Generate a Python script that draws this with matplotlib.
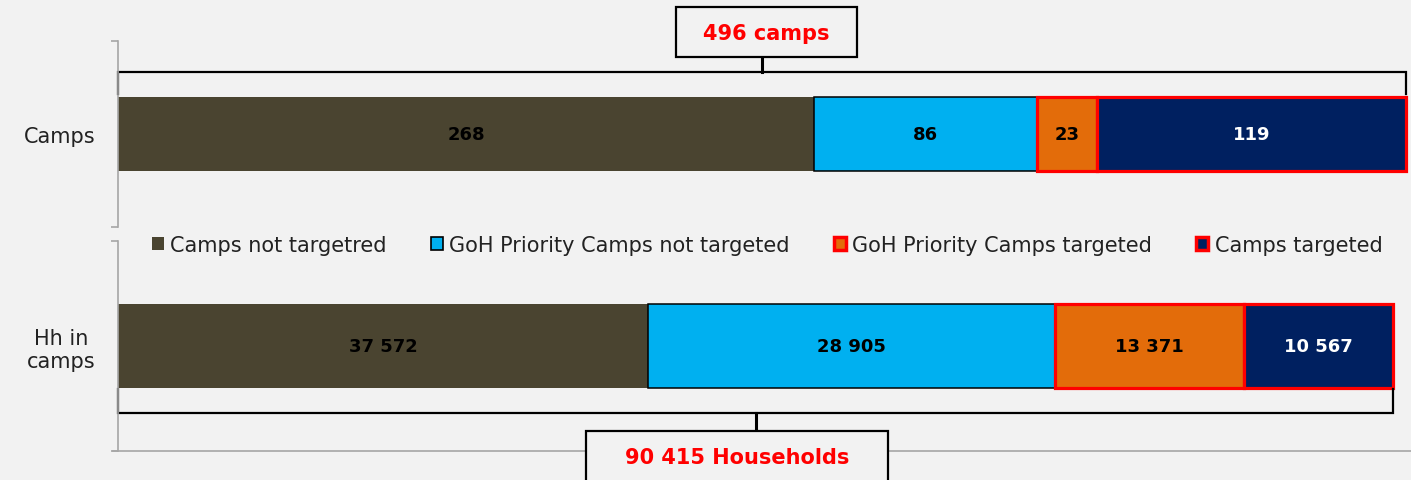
import numpy as np
import matplotlib.pyplot as plt
from matplotlib.patches import Patch, Rectangle
from matplotlib.lines import Line2D

categories = ['Camps not targetred', 'GoH Priority Camps not targeted',
              'GoH Priority Camps targeted', 'Camps targeted']
camps = [268, 86, 23, 119]
households = [37572, 28905, 13371, 10567]
row_names = ['Camps', 'Hh in\ncamps']
camps_total_label = '496 camps'
hh_total_label = '90 415 Households'

colors = ['#4a4430', '#00b0f0', '#e36c0a', '#002060']
edges = ['none', 'black', 'red', 'red']
edge_w = [0, 1.1, 2.3, 2.3]
text_colors = ['black', 'black', 'black', 'white']
bg = '#f2f2f2'
axis_gray = '#a6a6a6'

plt.rcParams['font.family'] = 'DejaVu Sans'

W, H = 1411, 481
def box(l, t, r, b):
    return [l / W, 1 - b / H, (r - l) / W, (b - t) / H]

fig = plt.figure(figsize=(W / 100, H / 100), dpi=100, facecolor=bg)
ax1 = fig.add_axes(box(118, 42, 1406, 228))
ax2 = fig.add_axes(box(118, 242, 1393, 452))


def draw_row(ax, values, name):
    left = 0
    for i, v in enumerate(values):
        ax.barh(0, v, left=left, height=0.40, color=colors[i],
                edgecolor=edges[i], linewidth=edge_w[i], clip_on=False)
        ax.text(left + v / 2, 0, f'{v:,}'.replace(',', ' '), ha='center', va='center',
                fontsize=13, fontweight='bold', color=text_colors[i])
        left += v
    ax.set_xlim(0, sum(values))
    ax.set_ylim(-0.5, 0.5)
    ax.set_facecolor('none')
    for s in ['top', 'right', 'bottom']:
        ax.spines[s].set_visible(False)
    ax.spines['left'].set_color(axis_gray)
    ax.spines['left'].set_linewidth(1.2)
    ax.set_xticks([])
    ax.set_yticks([0], [name], fontsize=15, color='#222222')
    ax.get_yticklabels()[0].set_multialignment('center')
    ax.tick_params(axis='y', which='major', length=0, pad=16)
    ax.set_yticks([-0.5, 0.5], minor=True)
    ax.tick_params(axis='y', which='minor', length=5, color=axis_gray, width=1.2)


draw_row(ax1, camps, row_names[0])
draw_row(ax2, households, row_names[1])

# bottom axis line of lower chart
fig.add_artist(Line2D([113 / W, 1], [1 - 452 / H] * 2, color=axis_gray, lw=1.2))

# bracket above the camps bar
tot = sum(camps)
ax1.plot([0, 0, tot, tot], [0.215, 0.333, 0.333, 0.215], color='black', lw=1.6,
         clip_on=False, solid_joinstyle='miter')
ax1.plot([tot / 2, tot / 2], [0.333, 0.414], color='black', lw=2.2, clip_on=False)
b = box(676, 8, 857, 58)
fig.add_artist(Rectangle((b[0], b[1]), b[2], b[3], transform=fig.transFigure,
                         facecolor=bg, edgecolor='black', lw=1.6))
fig.text(766 / W, 1 - 34 / H, camps_total_label, ha='center', va='center',
         fontsize=15, fontweight='bold', color='red')

# bracket below the household bar
tot = sum(households)
ax2.plot([0, 0, tot, tot], [-0.205, -0.319, -0.319, -0.205], color='black', lw=1.6,
         clip_on=False, solid_joinstyle='miter')
ax2.plot([tot / 2, tot / 2], [-0.319, -0.405], color='black', lw=2.2, clip_on=False)
b = box(586, 432, 888, 490)
fig.add_artist(Rectangle((b[0], b[1]), b[2], b[3], transform=fig.transFigure,
                         facecolor=bg, edgecolor='black', lw=1.6, zorder=5))
fig.text(737 / W, 1 - 458 / H, hh_total_label, ha='center', va='center',
         fontsize=15, fontweight='bold', color='red', zorder=6)

handles = [Patch(facecolor=colors[i], edgecolor=('black' if i == 1 else edges[i]),
                 linewidth=[0, 1.2, 2.5, 2.5][i]) for i in range(4)]
fig.legend(handles, categories, loc='center', bbox_to_anchor=(767 / W, 1 - 246 / H),
           ncol=4, frameon=False, fontsize=15, handlelength=0.6, handleheight=0.6,
           handletextpad=0.3, columnspacing=2.1, labelcolor='#222222')

fig.savefig('out.png', dpi=100, facecolor=bg)
